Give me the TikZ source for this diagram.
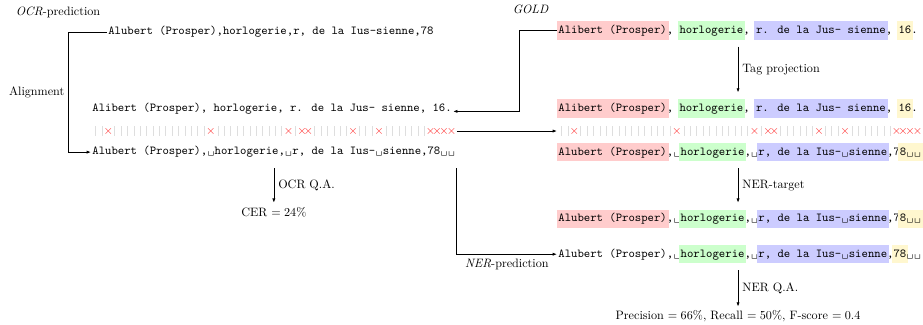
\documentclass[tikz,border=0pt]{standalone}
\usepackage{amsmath, amssymb, xcolor}
\usepackage{tikz}
\usetikzlibrary{positioning, arrows.meta}

\definecolor{tagyellow}{HTML}{FFF7CF}
\setlength{\fboxsep}{1.5pt}
\newcommand{\tagbox}[2]{\hspace{-\fboxsep}\colorbox{#1}{\strut #2}\hspace{-\fboxsep}}
\newcommand{\vsp}{\makebox[6.2pt]{\textvisiblespace}}
\newcommand{\mok}{\makebox[5.25pt]{\color{black!13}\rule[-1.2pt]{0.5pt}{8pt}}}
\newcommand{\mno}{\makebox[5.25pt]{\color{red!85}$\times$}}
\newcommand{\mnw}{\makebox[6.2pt]{\color{red!85}$\times$}}
\newcommand{\alignrow}{\mok\mok\mno\mok\mok\mok\mok\mok\mok\mok\mok\mok\mok\mok\mok\mok\mok\mok\mnw\mok\mok\mok\mok\mok\mok\mok\mok\mok\mok\mok\mnw\mok\mno\mno\mok\mok\mok\mok\mok\mok\mno\mok\mok\mok\mnw\mok\mok\mok\mok\mok\mok\mok\mno\mno\mnw\mnw}

\begin{document}
\begin{tikzpicture}[
        every node/.style={font=\normalsize},
        row/.style={font=\ttfamily, inner sep=1pt, minimum height=26pt},
        edge/.style={-{Latex[length=3.5pt,width=2.6pt]}, semithick}
    ]
        \useasboundingbox (0,0) rectangle (26.70,-9.40);
        % OCR side
        \node at (1.68,-0.35) (ocrlab) {\textit{OCR}-prediction};
        \node[row, anchor=west] at (3.09,-0.93) (ocrraw) {Alubert (Prosper),horlogerie,r, de la Ius-sienne,78};
        \node[row, anchor=west] at (2.63,-3.14) (goldL) {Alibert (Prosper), horlogerie, r. de la Jus- sienne, 16.};
        \node[row, anchor=west] at (2.63,-3.79) (alignL) {\alignrow};
        \node[row, anchor=west] at (2.63,-4.40) (ocrL) {Alubert (Prosper),\vsp horlogerie,\vsp r, de la Ius-\vsp sienne,78\vsp\vsp};
        \node[below=1cm of ocrL] (cer) {CER $= 24\%$};
        % GOLD side
        \node[row, anchor=west] at (16.11,-3.14) (goldR2) {\tagbox{red!20}{Alibert (Prosper)}, \tagbox{green!20}{horlogerie}, \tagbox{blue!20}{r. de la Jus- sienne}, \tagbox{tagyellow}{16}.};
        \node[row, above=1.33cm of goldR2] (goldR) {\tagbox{red!20}{Alibert (Prosper)}, \tagbox{green!20}{horlogerie}, \tagbox{blue!20}{r. de la Jus- sienne}, \tagbox{tagyellow}{16}.};
        \node at (15.35,-0.26) (goldlab) {\textit{GOLD}};
        \node[row, anchor=west] at (goldR2.west |- alignL.west) (alignR) {\alignrow};
        \node[row, anchor=west] at (goldR2.west |- ocrL.west) (ocrR) {\tagbox{red!20}{Alubert (Prosper)},\vsp\tagbox{green!20}{horlogerie},\vsp\tagbox{blue!20}{r, de la Ius-\vsp sienne},7\tagbox{tagyellow}{8\vsp\vsp}};
        % NER rows
        \node[row, below=1cm of ocrR.south west, anchor=north west] (nertgt) {\tagbox{red!20}{Alubert (Prosper)},\vsp\tagbox{green!20}{horlogerie},\vsp\tagbox{blue!20}{r, de la Ius-\vsp sienne},7\tagbox{tagyellow}{8\vsp\vsp}};
        \node[row, below=2.8pt of nertgt.south west, anchor=north west] (nerpred) {Alubert (Prosper),\vsp\tagbox{green!20}{horlogerie},\vsp\tagbox{blue!20}{r, de la Ius-\vsp sienne},\tagbox{tagyellow}{78}\vsp\vsp};
        \node[below=1.05cm of nerpred.south -| goldR2.south] (prec) {Precision $= 66\%$, Recall $= 50\%$, F-score $= 0.4$};
        % Edges
        \draw[edge] (ocrraw.west) -- ++(-1.1,0) |- node[pos=0.25, left] {Alignment} (ocrL.west);
        \draw[edge] (goldR.west) -- ++(-1.1,0) |- (goldL.base east);
        \draw[edge] (alignL.east) -- (alignR.west);
        \draw[edge] (ocrL) -- node[right] {OCR Q.A.} (cer);
        \draw[edge] (ocrL.south east) |- node[pos=0.75, below] {\textit{NER}-prediction} (nerpred.west);
        \draw[edge] (goldR) -- node[right] {Tag projection} (goldR2);
        \draw[edge] (ocrR.south -| goldR2.south) -- node[right] {NER-target} (nertgt.north -| goldR2.south);
        \draw[edge] (nerpred.south -| goldR2.south) -- node[right] {NER Q.A.} (prec);
    \end{tikzpicture}
\end{document}
